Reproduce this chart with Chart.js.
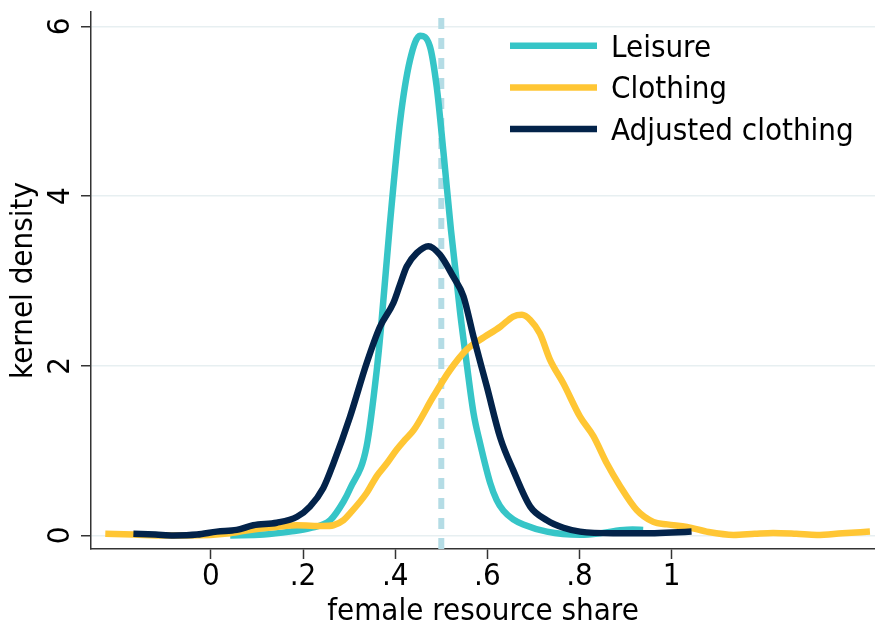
<!DOCTYPE html>
<html><head><meta charset="utf-8">
<script src="https://cdn.jsdelivr.net/npm/chart.js@4.4.1/dist/chart.umd.min.js"></script>
<style>html,body{margin:0;padding:0;background:#fff}canvas{display:block}</style>
</head><body>
<canvas id="c" width="875" height="624"></canvas>
<script>
const FONT = '"DejaVu Sans Condensed", "DejaVu Sans", sans-serif';

const seriesNames = ['Leisure', 'Clothing', 'Adjusted clothing'];
const seriesColors = ['#36c5c7', '#ffc634', '#03234a'];

const leisureX = [0.042,0.114,0.172,0.215,0.259,0.288,0.302,0.338,0.360,0.370,0.389,0.411,0.432,0.454,0.475,0.490,0.505,0.521,0.541,0.555,0.570,0.584,0.606,0.620,0.635,0.656,0.678,0.729,0.801,0.850,0.888,0.915,0.938];
const leisureY = [0.00,0.01,0.045,0.085,0.18,0.40,0.55,1.05,1.95,2.50,3.70,4.90,5.60,5.89,5.77,5.29,4.50,3.60,2.62,2.03,1.44,1.09,0.62,0.42,0.29,0.19,0.13,0.045,0.008,0.03,0.06,0.07,0.065];

const clothingX = [-0.229,-0.168,-0.100,-0.045,0.042,0.085,0.143,0.187,0.244,0.266,0.288,0.302,0.338,0.360,0.382,0.403,0.420,0.440,0.483,0.519,0.555,0.585,0.628,0.656,0.675,0.693,0.714,0.736,0.765,0.801,0.830,0.859,0.888,0.924,0.960,0.990,1.033,1.080,1.134,1.180,1.220,1.270,1.315,1.370,1.430];
const clothingY = [0.02,0.01,0.0,0.0,0.026,0.065,0.10,0.12,0.11,0.12,0.18,0.26,0.50,0.70,0.85,1.01,1.12,1.24,1.64,1.95,2.19,2.31,2.46,2.58,2.60,2.54,2.38,2.07,1.79,1.40,1.17,0.85,0.58,0.30,0.16,0.13,0.10,0.04,0.006,0.02,0.03,0.02,0.006,0.025,0.045];

const adjustedX = [-0.168,-0.120,-0.081,-0.030,0.013,0.056,0.092,0.143,0.187,0.215,0.244,0.266,0.302,0.338,0.367,0.396,0.410,0.425,0.447,0.472,0.497,0.526,0.548,0.570,0.599,0.628,0.656,0.693,0.729,0.765,0.801,0.873,0.946,1.000,1.043];
const adjustedY = [0.02,0.01,0.0,0.01,0.045,0.065,0.12,0.15,0.22,0.34,0.56,0.85,1.40,2.03,2.46,2.74,2.95,3.17,3.33,3.41,3.31,3.05,2.82,2.34,1.75,1.15,0.77,0.34,0.18,0.09,0.045,0.026,0.026,0.035,0.045];

const xTickValues = [0, 0.2, 0.4, 0.6, 0.8, 1];
const xTickLabels = ['0', '.2', '.4', '.6', '.8', '1'];
const yTickValues = [0, 2, 4, 6];
const yTickLabels = ['0', '2', '4', '6'];
const refLineX = 0.5;
const xMin = -0.26, xMax = 1.441, yMin = -0.16, yMax = 6.17;

const pts = (xs, ys) => xs.map((x, i) => ({x, y: ys[i]}));

function curve(i, xs, ys, order) {
  return {
    label: seriesNames[i], data: pts(xs, ys), borderColor: seriesColors[i], backgroundColor: seriesColors[i],
    borderWidth: 6.5, pointRadius: 0, fill: false, showLine: true,
    cubicInterpolationMode: 'monotone', borderCapStyle: 'butt', borderJoinStyle: 'round', order
  };
}

const datasets = [
  curve(0, leisureX, leisureY, 3),
  curve(1, clothingX, clothingY, 2),
  curve(2, adjustedX, adjustedY, 1),
  { label: '', isRef: true, data: [{x: refLineX, y: yMin}, {x: refLineX, y: yMax}], borderColor: '#b4dce5',
    borderWidth: 6, borderDash: [11, 9], pointRadius: 0, showLine: true, fill: false, order: 10 }
];

const yLabelPlugin = {
  id: 'yLabels',
  afterDraw(chart) {
    const ctx = chart.ctx, ys = chart.scales.y;
    ctx.save();
    ctx.font = '31px ' + FONT;
    ctx.fillStyle = '#000';
    ctx.textAlign = 'center';
    ctx.textBaseline = 'alphabetic';
    yTickValues.forEach((v, i) => {
      const py = ys.getPixelForValue(v);
      ctx.save();
      ctx.translate(69, py);
      ctx.rotate(-Math.PI / 2);
      ctx.fillText(yTickLabels[i], 0, 0);
      ctx.restore();
    });
    ctx.restore();
  }
};

const legendPlugin = {
  id: 'stataLegend',
  afterDraw(chart) {
    const ctx = chart.ctx;
    ctx.save();
    ctx.font = '31px ' + FONT;
    ctx.textAlign = 'left';
    ctx.textBaseline = 'alphabetic';
    chart.data.datasets.filter(d => !d.isRef).forEach((d, i) => {
      const base = 56.7 + i * 41.7;
      ctx.strokeStyle = d.borderColor;
      ctx.lineWidth = 6.5;
      ctx.lineCap = 'butt';
      ctx.beginPath();
      ctx.moveTo(510, base - 11);
      ctx.lineTo(597, base - 11);
      ctx.stroke();
      ctx.fillStyle = '#000';
      ctx.fillText(d.label, 611, base);
    });
    ctx.restore();
  }
};

new Chart(document.getElementById('c'), {
  type: 'scatter',
  data: { datasets },
  plugins: [yLabelPlugin, legendPlugin],
  options: {
    responsive: false, animation: false, devicePixelRatio: 1,
    layout: { padding: { top: 12, right: 0, left: 0, bottom: 0 } },
    plugins: { legend: { display: false }, tooltip: { enabled: false } },
    scales: {
      x: {
        type: 'linear', min: xMin, max: xMax,
        afterBuildTicks: s => { s.ticks = xTickValues.map(v => ({ value: v })); },
        afterFit: s => { s.height = 75; },
        ticks: { font: { family: FONT, size: 31, lineHeight: 1 }, color: '#000', padding: 2, autoSkip: false, maxRotation: 0, minRotation: 0,
          callback: (v, i) => xTickLabels[i] },
        grid: { drawOnChartArea: false, drawTicks: true, tickLength: 10, tickColor: '#333', tickWidth: 1.5 },
        border: { display: true, color: '#333', width: 1.5 },
        title: { display: true, text: 'female resource share', color: '#000',
          font: { family: FONT, size: 31, lineHeight: 1 }, padding: { top: 0, bottom: -3 } }
      },
      y: {
        type: 'linear', min: yMin, max: yMax,
        afterBuildTicks: s => { s.ticks = yTickValues.map(v => ({ value: v })); },
        afterFit: s => { s.width = 91; },
        ticks: { display: false },
        grid: { drawOnChartArea: true, color: '#e7eff1', lineWidth: 1.5, drawTicks: true, tickLength: 10, tickColor: '#333', tickWidth: 1.5 },
        border: { display: true, color: '#333', width: 1.5 },
        title: { display: true, text: 'kernel density', color: '#000',
          font: { family: FONT, size: 31, lineHeight: 1 }, padding: { top: 8, bottom: 0 } }
      }
    }
  }
});
</script>
</body></html>
